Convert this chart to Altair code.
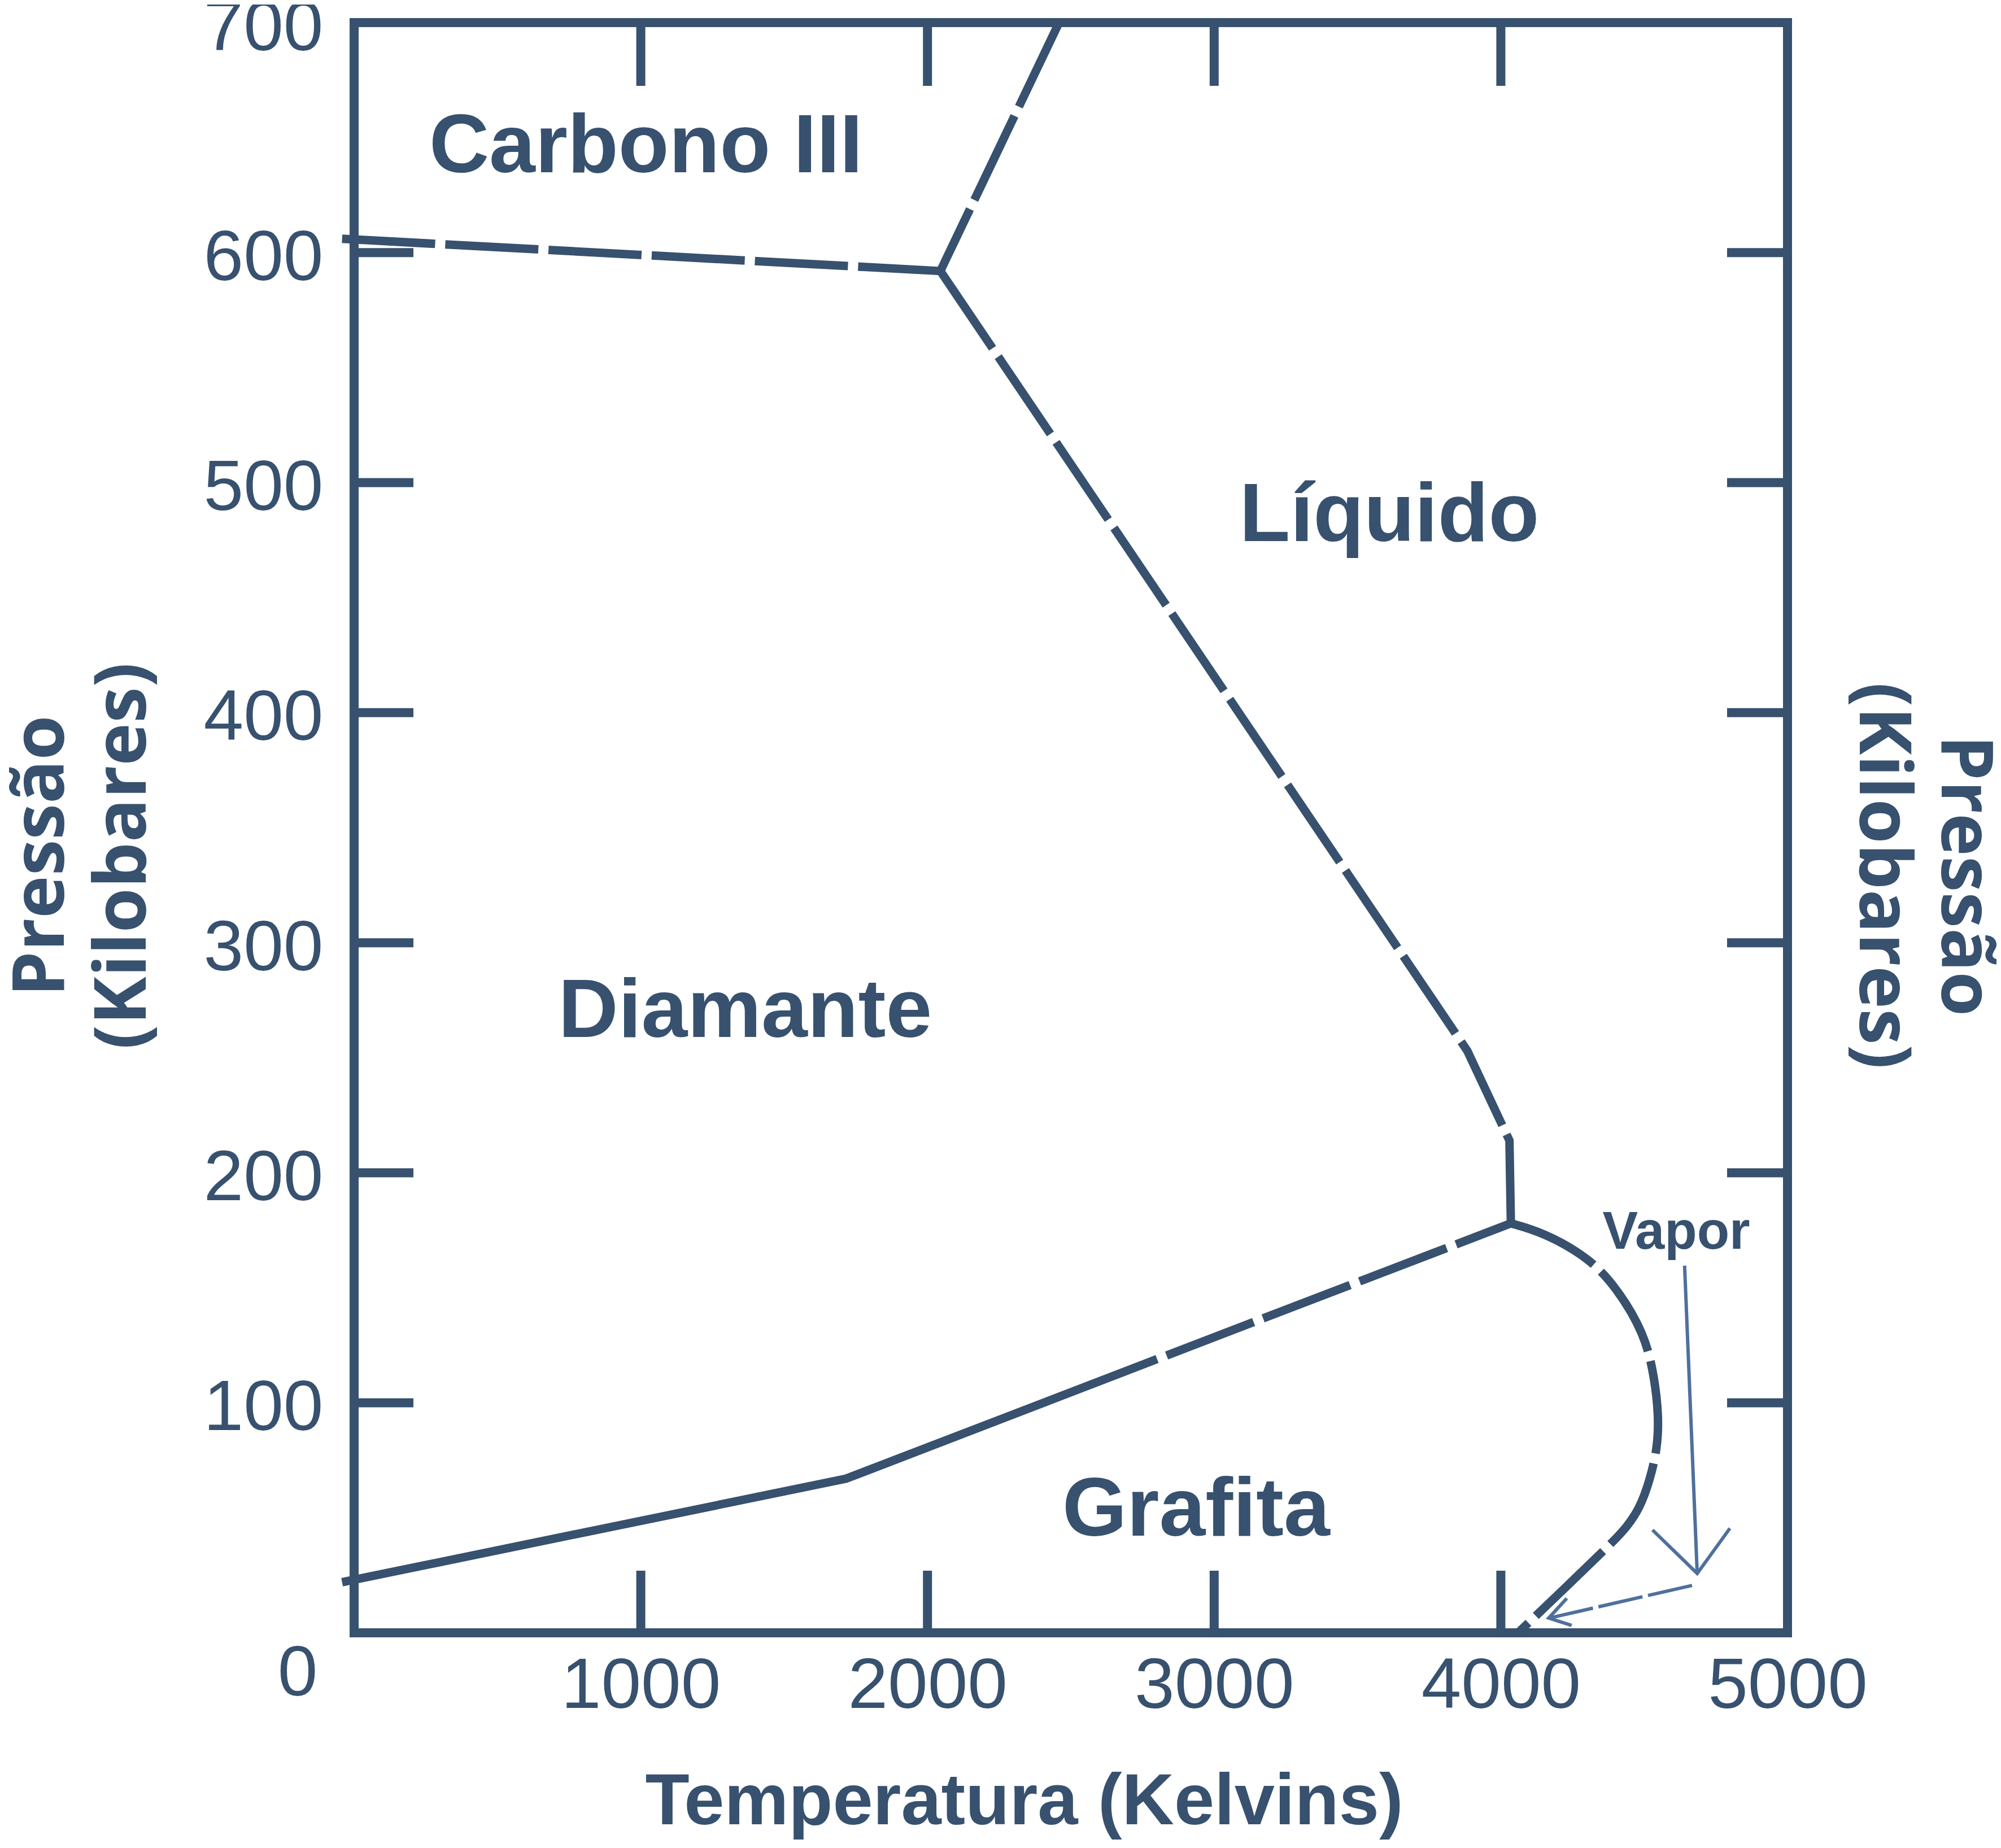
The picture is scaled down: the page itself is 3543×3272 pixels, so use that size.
import altair as alt
import pandas as pd

C = "#37516f"
CA = "#4e709d"

# ---------------- data ----------------
x_tick_vals = [1000, 2000, 3000, 4000]
x_label_vals = [1000, 2000, 3000, 4000, 5000]
y_tick_vals = [100, 200, 300, 400, 500, 600]
y_label_vals = [100, 200, 300, 400, 500, 600, 700]

# phase boundaries (T in K, P in kbar)
c3_diam_T = [-42, 2045]
c3_diam_P = [606, 592]
c3_liq_T = [2459, 2045]
c3_liq_P = [700, 592]
diam_liq_T = [2045, 3883, 4030, 4035]
diam_liq_P = [592, 253, 214, 178]
diam_graf_solid_T = [-42, 1716, 2801]
diam_graf_solid_P = [22, 67, 119]
diam_graf_dash_T = [2801, 4035]
diam_graf_dash_P = [119, 178]
liq_vap_T = [4035, 4150, 4308, 4404, 4502, 4536, 4551, 4546, 4519, 4484, 4439, 4395, 4228, 4060]
liq_vap_P = [178, 174, 163, 150, 130, 111, 94, 80, 66, 54, 46, 40, 20, 0]

# "Vapor" annotation arrows
arrow1_T = [4641, 4685]
arrow1_P = [159.6, 25.8]
head1_T = [4529, 4685, 4799]
head1_P = [44.7, 25.8, 45.4]
arrow2_T = [4667, 4169]
arrow2_P = [20.6, 6.4]
head2_T = [4230, 4167, 4247]
head2_P = [15.0, 6.4, 3.2]

region_names = ["Carbono III", "Diamante", "Líquido", "Grafita"]
region_T = [1018, 1364, 3611, 2937]
region_P = [635, 259, 474.6, 42.3]

vapor_name = ["Vapor"]
vapor_T = [4612]
vapor_P = [167]

zero_label = ["0"]

# ---------------- helpers ----------------
def seg_df(pairs):
    rows = []
    for name, ts, ps in pairs:
        for i, (t, p) in enumerate(zip(ts, ps)):
            rows.append({"seg": name, "i": i, "T": t, "P": p})
    return pd.DataFrame(rows)

W, H = 2538, 2851
xs = alt.Scale(domain=[0, 5000], nice=False, zero=False)
ys = alt.Scale(domain=[0, 700], nice=False, zero=False)

def X(axis=None):
    if axis is None:
        return alt.X("T:Q", scale=xs, axis=None)
    return alt.X("T:Q", scale=xs, axis=axis)

def Y(axis=None):
    if axis is None:
        return alt.Y("P:Q", scale=ys, axis=None)
    return alt.Y("P:Q", scale=ys, axis=axis)

x_axis = alt.Axis(
    orient="bottom", values=x_label_vals, format="d", ticks=False, domain=False, grid=False,
    labelFont="Liberation Sans", labelFontSize=127, labelColor=C,
    labelPadding=32, labelFlush=False, labelOverlap=False, labelLimit=0,
    labelAlign="center", labelBaseline="top",
    title="Temperatura (Kelvins)", titleFont="Liberation Sans",
    titleFontSize=128, titleFontWeight="bold", titleColor=C,
    titleX=1186, titleY=338, titleAlign="center", titleBaseline="alphabetic",
    titleAngle=0, titleLimit=0,
)
y_axis_left = alt.Axis(
    orient="left", values=y_label_vals, format="d", ticks=False, domain=False, grid=False,
    labelFont="Liberation Sans", labelFontSize=127, labelColor=C,
    labelPadding=55, labelFlush=False, labelOverlap=False, labelLimit=0,
    labelAlign="right", labelBaseline="middle", labelOffset=10,
    title=["Pressão", "(Kilobares)"], titleFont="Open Sans", titleFontSize=128,
    titleFontWeight="bold", titleColor=C, titleAngle=270,
    titleX=-515, titleY=1475, titleAlign="center", titleBaseline="alphabetic",
    titleLineHeight=145, titleLimit=0,
)
y_axis_right = alt.Axis(
    orient="right", labels=False, ticks=False, domain=False, grid=False,
    title=["Pressão", "(Kilobares)"], titleFont="Open Sans", titleFontSize=128,
    titleFontWeight="bold", titleColor=C, titleAngle=90,
    titleX=272, titleY=1510, titleAlign="center", titleBaseline="alphabetic",
    titleLineHeight=145, titleLimit=0,
)

dashed = seg_df([
    ("c3_diam", c3_diam_T, c3_diam_P),
    ("c3_liq", c3_liq_T, c3_liq_P),
    ("diam_liq", diam_liq_T, diam_liq_P),
])
dashed_lines = alt.Chart(dashed).mark_line(
    color=C, strokeWidth=15, strokeDash=[165, 18]
).encode(x=X(x_axis), y=Y(y_axis_left), detail="seg:N", order="i:Q")

graf_dash = alt.Chart(seg_df([("dg", diam_graf_dash_T, diam_graf_dash_P)])).mark_line(
    color=C, strokeWidth=15, strokeDash=[165, 18], strokeDashOffset=165
).encode(x=X(), y=Y(), order="i:Q")

graf_solid = alt.Chart(seg_df([("gs", diam_graf_solid_T, diam_graf_solid_P)])).mark_line(
    color=C, strokeWidth=15
).encode(x=X(), y=Y(), order="i:Q")

curve = alt.Chart(seg_df([("lv", liq_vap_T, liq_vap_P)])).mark_line(
    color=C, strokeWidth=15, strokeDash=[165, 18], interpolate="basis"
).encode(x=X(), y=Y(), order="i:Q")

arrows_solid = alt.Chart(seg_df([
    ("a1", arrow1_T, arrow1_P), ("h1", head1_T, head1_P), ("h2", head2_T, head2_P)
])).mark_line(color=CA, strokeWidth=6).encode(x=X(), y=Y(), detail="seg:N", order="i:Q")

arrow_dash = alt.Chart(seg_df([("a2", arrow2_T, arrow2_P)])).mark_line(
    color=CA, strokeWidth=6, strokeDash=[80, 10]
).encode(x=X(), y=Y(), order="i:Q")

# inward ticks
xt = pd.DataFrame({"T": x_tick_vals})
yt = pd.DataFrame({"P": y_tick_vals})
ticks_bottom = alt.Chart(xt).mark_rule(color=C, strokeWidth=16).encode(
    x=X(), y=alt.value(H), y2=alt.value(H - 110))
ticks_top = alt.Chart(xt).mark_rule(color=C, strokeWidth=16).encode(
    x=X(), y=alt.value(0), y2=alt.value(112))
ticks_left = alt.Chart(yt).mark_rule(color=C, strokeWidth=16).encode(
    y=Y(), x=alt.value(0), x2=alt.value(105))
ticks_right = alt.Chart(yt).mark_rule(color=C, strokeWidth=16).encode(
    y=Y(y_axis_right), x=alt.value(W), x2=alt.value(W - 107))

regions = alt.Chart(pd.DataFrame({"name": region_names, "T": region_T, "P": region_P})).mark_text(
    font="Liberation Sans", fontWeight="bold", fontSize=147, color=C,
    align="center", baseline="alphabetic"
).encode(x=X(), y=Y(), text="name:N")

vapor = alt.Chart(pd.DataFrame({"name": vapor_name, "T": vapor_T, "P": vapor_P})).mark_text(
    font="Liberation Sans", fontWeight="bold", fontSize=94, color=C,
    align="center", baseline="alphabetic"
).encode(x=X(), y=Y(), text="name:N")

zero = alt.Chart(pd.DataFrame({"name": zero_label, "T": [0], "P": [0]})).mark_text(
    font="Liberation Sans", fontSize=127, color=C, align="center", baseline="middle",
    dx=-100, dy=73
).encode(x=X(), y=Y(), text="name:N")

chart = alt.layer(
    dashed_lines, graf_dash, graf_solid, curve, arrows_solid, arrow_dash,
    ticks_bottom, ticks_top, ticks_left, ticks_right, regions, vapor, zero
).resolve_axis(x="independent", y="independent").properties(
    width=W, height=H,
    padding={"left": 619, "top": 32, "right": 370, "bottom": 373},
    autosize=alt.AutoSizeParams(type="none"),
    background="white",
).configure_view(stroke=C, strokeWidth=16)

chart.save("out.html", embed_options={"renderer": "svg", "actions": False})
